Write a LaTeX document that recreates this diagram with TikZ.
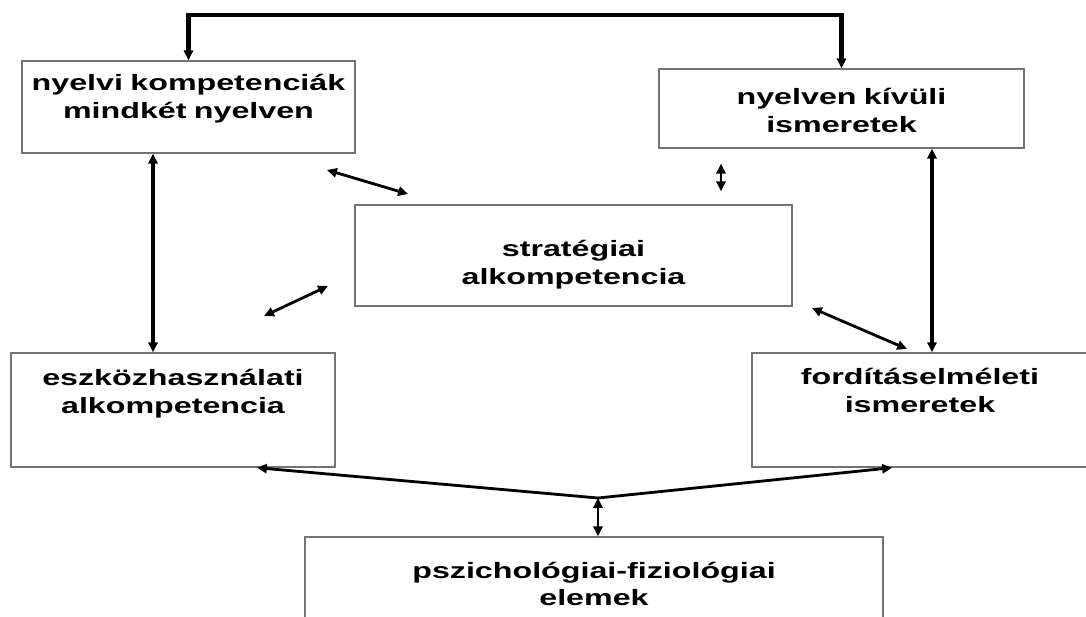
\documentclass[tikz,border=0pt]{standalone}
\usepackage{fontspec}
\newfontfamily\boxfont{Liberation Sans}[FakeStretch=1.45]
\usetikzlibrary{arrows.meta}

\begin{document}
\begin{tikzpicture}[x=0.025cm, y=-0.025cm, >={Triangle[length=7pt,width=6.5pt]},
	box/.style={draw=gray!90!black, line width=1pt, inner sep=0pt, align=center,
		font=\boxfont\bfseries\fontsize{15.8pt}{19.6pt}\selectfont},
	link/.style={line width=2pt}]
	\useasboundingbox (0,0) rectangle (1086,617);
	% boxes
	\node[box, text width=8.325cm, text height=0.7375cm, text depth=1.5625cm] (kompetencia) at (188.5,107) {nyelvi kompetenciák\\mindkét nyelven};
	\node[box, text width=9.125cm, text height=0.8875cm, text depth=1.0875cm] (ismeret) at (841.5,108.5) {nyelven kívüli\\ismeretek};
	\node[box, text width=10.925cm, text height=1.2875cm, text depth=1.2375cm] (strategia) at (573.5,255.5) {stratégiai\\alkompetencia};
	\node[box, text width=8.1cm, text height=0.8125cm, text depth=2.0375cm] (eszkoz) at (173,410) {eszközhasználati\\alkompetencia};
	\node[box, text width=8.4cm, text height=0.7875cm, text depth=2.0625cm] (elmelet) at (920,410) {fordításelméleti\\ismeretek};
	\node[box, text width=14.45cm, text height=1.025cm, text depth=1.3cm] (pszich) at (594,583.5) {pszichológiai-fiziológiai\\elemek};
	% free ends
	\coordinate (felso) at (500,15);
	\coordinate (baloldal) at (153,0);
	\coordinate (jobboldal) at (932,0);
	\coordinate (kozep) at (721,0);
	\coordinate (csomo) at (598,498);
	\coordinate (balveg) at (257,0);
	\coordinate (jobbveg) at (892,0);
	\coordinate (ks1) at (327,170);
	\coordinate (ks2) at (408,194);
	\coordinate (se1) at (264,316);
	\coordinate (se2) at (328,286);
	\coordinate (sf1) at (812,308);
	\coordinate (sf2) at (907,349);
	% links
	\draw[link, line width=3pt, <->] (kompetencia.north) -- (kompetencia.north |- felso) -| (ismeret.north);
	\draw[link, line width=2.6pt, <->] (kompetencia.south -| baloldal) -- (eszkoz.north -| baloldal);
	\draw[link, line width=2.6pt, <->] (ismeret.south -| jobboldal) -- (elmelet.north -| jobboldal);
	\draw[link, <->, shorten <=0.375cm, shorten >=0.325cm] (ismeret.south -| kozep) -- (strategia.north -| kozep);
	\draw[link, <->] (ks1) -- (ks2);
	\draw[link, <->] (se1) -- (se2);
	\draw[link, <->] (sf1) -- (sf2);
	\draw[link, ->] (csomo) -- (eszkoz.south -| balveg);
	\draw[link, ->] (csomo) -- (elmelet.south -| jobbveg);
	\draw[link, <->] (csomo) -- (pszich.north -| csomo);
\end{tikzpicture}
\end{document}
